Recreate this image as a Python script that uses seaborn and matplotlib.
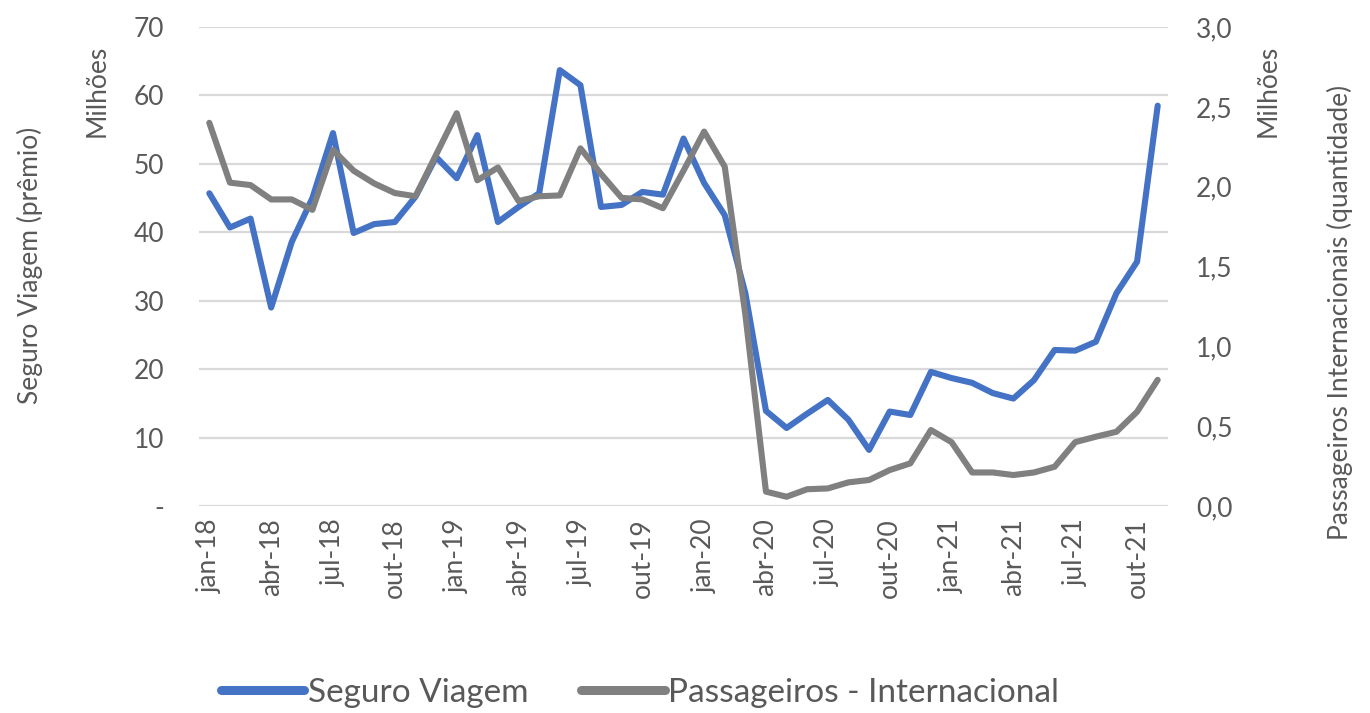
import numpy as np
import pandas as pd
import matplotlib
matplotlib.use('Agg')
import matplotlib.pyplot as plt
import seaborn as sns
from matplotlib.lines import Line2D

# month labels jan-18 .. nov-21
meses_pt = ['jan', 'fev', 'mar', 'abr', 'mai', 'jun', 'jul', 'ago', 'set', 'out', 'nov', 'dez']
anos = ['18', '19', '20', '21']
months = ['%s-%s' % (m, a) for a in anos for m in meses_pt][:47]

# Seguro Viagem (premio), millions
seguro = [45.7, 40.7, 42.0, 29.0, 38.6, 45.0, 54.5, 39.9, 41.2, 41.5, 45.2, 51.0,
          47.9, 54.2, 41.5, 43.7, 45.7, 63.7, 61.5, 43.7, 44.0, 45.9, 45.5, 53.7,
          47.2, 42.5, 31.1, 13.9, 11.4, 13.5, 15.5, 12.6, 8.2, 13.8, 13.3, 19.6,
          18.7, 18.0, 16.5, 15.7, 18.4, 22.8, 22.7, 24.0, 31.1, 35.7, 58.5]

# Passageiros - Internacional, millions
passageiros = [2.40, 2.025, 2.01, 1.92, 1.92, 1.855, 2.23, 2.10, 2.02, 1.96, 1.94, 2.20,
               2.46, 2.04, 2.12, 1.91, 1.94, 1.945, 2.24, 2.08, 1.93, 1.92, 1.865, 2.10,
               2.345, 2.125, 1.20, 0.09, 0.058, 0.105, 0.11, 0.148, 0.163, 0.225, 0.267, 0.476,
               0.40, 0.21, 0.21, 0.194, 0.21, 0.246, 0.40, 0.434, 0.465, 0.59, 0.79]

left_ticks = [0, 10, 20, 30, 40, 50, 60, 70]
left_labels = ['-', '10', '20', '30', '40', '50', '60', '70']
right_ticks = [0.0, 0.5, 1.0, 1.5, 2.0, 2.5, 3.0]
right_labels = ['0,0', '0,5', '1,0', '1,5', '2,0', '2,5', '3,0']

df = pd.DataFrame({
    'idx': np.arange(len(months)),
    'mes': months,
    'seguro': seguro,
    'passageiros': passageiros,
})

sns.set_theme(style='white')
plt.rcParams['font.family'] = ['Lato', 'DejaVu Sans']

W, H = 1370, 713
fig = plt.figure(figsize=(W / 100, H / 100), dpi=100)
ax = fig.add_axes([199 / W, 1 - 506 / H, (1168 - 199) / W, (506 - 27) / H])
ax2 = ax.twinx()

blue = '#4472C4'
gray = '#808080'
txt = '#595959'

sns.lineplot(data=df, x='idx', y='seguro', ax=ax, color=blue, linewidth=4.4,
             solid_joinstyle='round', solid_capstyle='round', legend=False)
sns.lineplot(data=df, x='idx', y='passageiros', ax=ax2, color=gray, linewidth=4.4,
             solid_joinstyle='round', solid_capstyle='round', legend=False)
# gray series drawn above the blue one, as in the reference
ax.set_zorder(0)
ax2.set_zorder(1)
ax.patch.set_visible(False)

ax.set_xlim(-0.5, len(months) - 0.5)
ax.set_ylim(0, 70)
ax2.set_ylim(0, 3.0)

ax.set_yticks(left_ticks)
ax.set_yticklabels(left_labels)
ax2.set_yticks(right_ticks)
ax2.set_yticklabels(right_labels)

ax.set_xticks(df['idx'][::3])
ax.set_xticklabels(df['mes'][::3], rotation=90)

ax.grid(axis='y', color='#d9d9d9', linewidth=1.6)
ax.grid(axis='x', visible=False)
ax2.grid(False)

for a in (ax, ax2):
    for s in a.spines.values():
        s.set_visible(False)
    a.set_xlabel('')
    a.set_ylabel('')

ax.tick_params(axis='y', length=0, pad=25, labelsize=19, labelcolor=txt)
ax.tick_params(axis='x', length=0, pad=9, labelsize=19, labelcolor=txt)
ax2.tick_params(axis='y', length=0, pad=20, labelsize=19, labelcolor=txt)

fig.text(30 / W, 1 - 265 / H, 'Seguro Viagem (prêmio)', rotation=90,
         ha='center', va='center', fontsize=19, color=txt)
fig.text(97 / W, 1 - 91 / H, 'Milhões', rotation=90,
         ha='center', va='center', fontsize=19, color=txt)
fig.text(1268 / W, 1 - 91 / H, 'Milhões', rotation=90,
         ha='center', va='center', fontsize=19, color=txt)
fig.text(1340 / W, 1 - 312 / H, 'Passageiros Internacionais (quantidade)', rotation=90,
         ha='center', va='center', fontsize=19, color=txt)

handles = [Line2D([], [], color=blue, linewidth=6.5, solid_capstyle='round'),
           Line2D([], [], color=gray, linewidth=6.5, solid_capstyle='round')]
fig.legend(handles, ['Seguro Viagem', 'Passageiros - Internacional'],
           loc='center', bbox_to_anchor=(640 / W, 1 - 693 / H), ncol=2,
           frameon=False, fontsize=24, handlelength=2.5, handletextpad=0.1,
           columnspacing=1.6, labelcolor=txt)

fig.savefig('out.png', dpi=100)
